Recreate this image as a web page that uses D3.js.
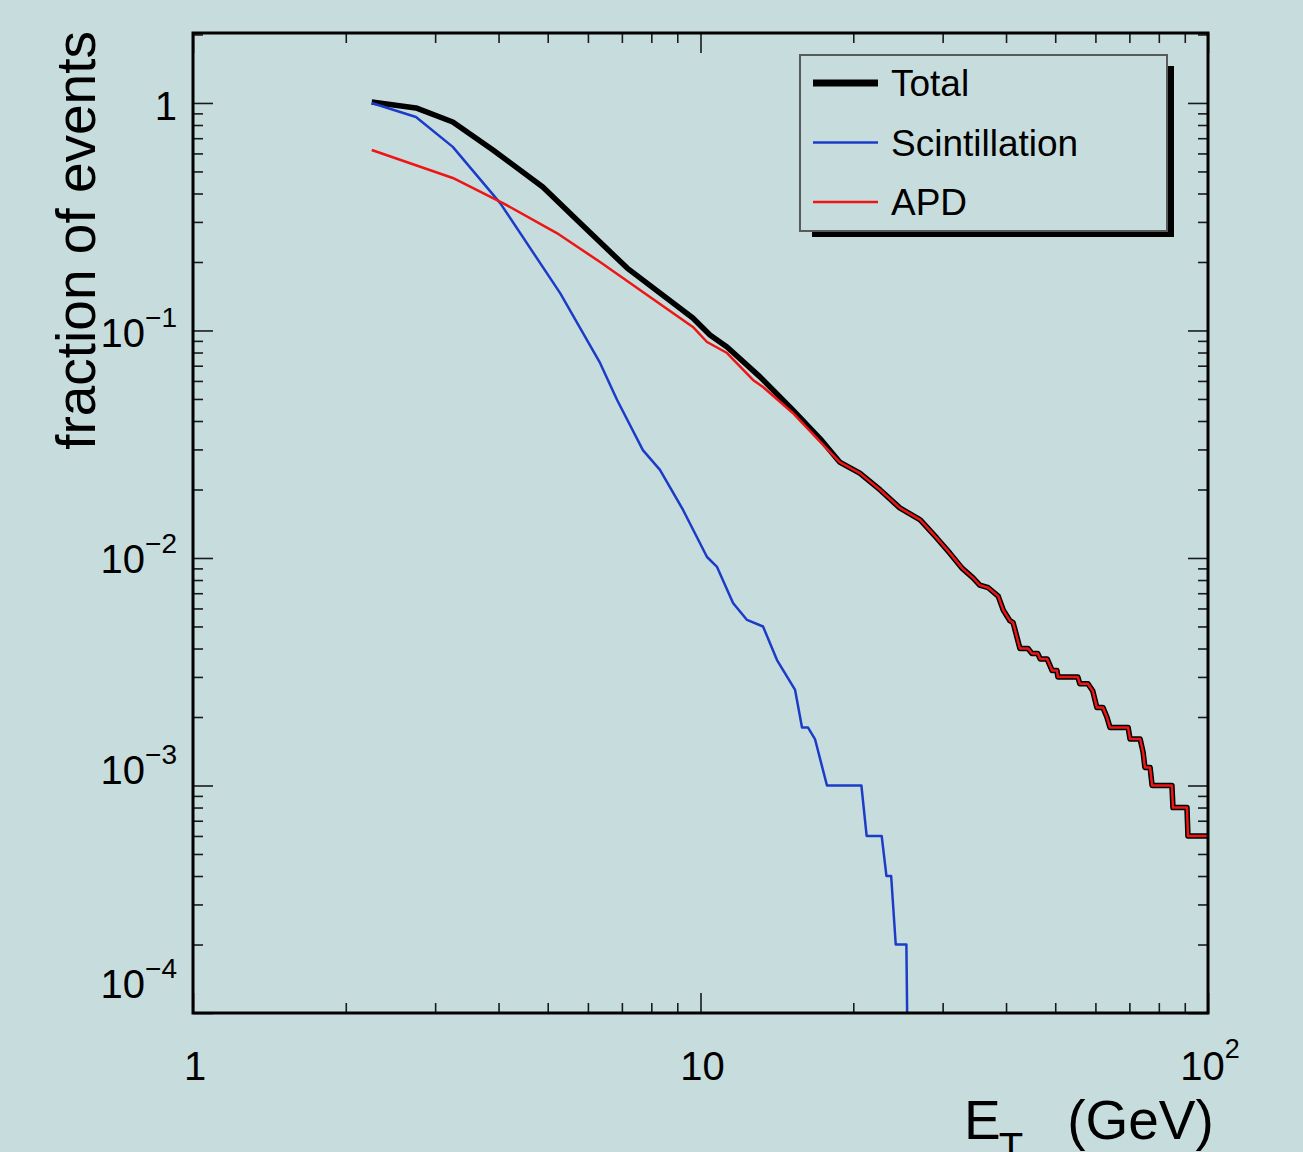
<!DOCTYPE html>
<html>
<head>
<meta charset="utf-8">
<script src="https://cdn.jsdelivr.net/npm/d3@7"></script>
<style>
  html, body { margin: 0; padding: 0; background: #c7dddd; }
  svg { display: block; font-family: "Liberation Sans", Arial, Helvetica, sans-serif; }
  .tick line { stroke: #1a1a1a; stroke-width: 1.6; }
</style>
</head>
<body>
<div id="chart"></div>
<script>
// energies (GeV, bin centres) and cumulative fractions
const totalE = [2.25, 2.75, 3.25, 3.9, 4.89, 5.71, 7.17, 9.66, 10.44, 11.28, 13.1, 15.2, 17.2]
const totalF = [1.01, 0.951, 0.825, 0.621, 0.427, 0.306, 0.188, 0.1135, 0.0955, 0.0846, 0.0625, 0.0447, 0.0335]

const apdE = [2.25, 3.25, 4.08, 5.21, 6.34, 7.6, 9.66, 10.3, 11.28, 12.69, 13.28, 15.2, 17.2]
const apdF = [0.621, 0.468, 0.363, 0.268, 0.2, 0.1507, 0.1036, 0.089, 0.0796, 0.0606, 0.0564, 0.0434, 0.0325]

// above ~18 GeV Total and APD are the same curve
const tailE = [18.8, 20.6, 22.6, 24.7, 27.1, 29.2, 31.0, 32.8, 34.4, 35.5, 36.9, 38.6, 39.5, 40.7, 41.3,
    42.6, 44.2, 45.0, 46.2, 46.7, 48.2, 49.3, 50.4, 50.6, 55.4, 55.9, 58.0, 59.3, 60.4, 62.1, 63.2,
    64.1, 69.6, 70.2, 73.5, 74.5, 75.1, 76.9, 77.6, 84.9, 85.3, 90.9, 91.3, 100]
const tailF = [0.0264, 0.0236, 0.0199, 0.0166, 0.0147, 0.01225, 0.0105, 0.009, 0.0082, 0.0076, 0.0074, 0.0068, 0.0059, 0.0053, 0.0052,
    0.004, 0.004, 0.0038, 0.0038, 0.0036, 0.0036, 0.0032, 0.0032, 0.003, 0.003, 0.0028, 0.0028, 0.0026, 0.0022, 0.0022, 0.002,
    0.0018, 0.0018, 0.0016, 0.0016, 0.0014, 0.0012, 0.0012, 0.001, 0.001, 0.0008, 0.0008, 0.0006, 0.0006]

const scintE = [2.25, 2.75, 3.25, 4.03, 5.29, 6.34, 6.85, 7.7, 8.32, 9.24, 10.3, 10.78, 11.59, 12.35, 13.28,
    14.15, 15.36, 15.85, 16.28, 16.81, 17.75, 20.75, 21.25, 22.75, 23.25, 23.75, 24.25, 25.45, 25.55]
const scintF = [1.0, 0.868, 0.641, 0.363, 0.146, 0.072, 0.0495, 0.0298, 0.0244, 0.01626, 0.0101, 0.00913, 0.00634, 0.00534, 0.005,
    0.00356, 0.00263, 0.0018, 0.0018, 0.0016, 0.001, 0.001, 0.0006, 0.0006, 0.0004, 0.0004, 0.0002, 0.0002, 0]

const xTickVals = [1, 10, 100]
const xTickBase = ['1', '10', '10']
const xTickSup = ['', '', '2']
const yTickVals = [1, 0.1, 0.01, 0.001, 0.0001]
const yTickBase = ['1', '10', '10', '10', '10']
const yTickSup = ['', '\u22121', '\u22122', '\u22123', '\u22124']

const legendNames = ['Total', 'Scintillation', 'APD']
const seriesColors = ['#000000', '#1c3cc8', '#ee1515']
const seriesWidths = [5.5, 2.5, 2.5]

const layout = { left: 193, top: 33, width: 1015, height: 980 }
const yLabelDy = [17, 17, 15, -1, -15]   // label nudges as printed

const toPoints = (es, fs) => es.map((e, i) => ({ e: e, f: fs[i] }))
const series = [
    toPoints(totalE.concat(tailE), totalF.concat(tailF)),
    toPoints(scintE, scintF),
    toPoints(apdE.concat(tailE), apdF.concat(tailF))
]

const svg = d3.select('#chart').append('svg')
    .attr('width', 1303)
    .attr('height', 1152)

svg.append('rect').attr('width', 1303).attr('height', 1152).attr('fill', '#c7dddd')

const g = svg.append('g')
    .attr('transform', 'translate(' + layout.left + ',' + layout.top + ')')

const xScale = d3.scaleLog().domain([1, 100]).range([0, layout.width])
const yScale = d3.scaleLog().domain([1e-4, 2.03]).range([layout.height, 0])

const xMinor = [1, 10].flatMap(d => d3.range(2, 10).map(k => k * d))
const yMinor = [1e-4, 1e-3, 1e-2, 1e-1, 1].flatMap(d => d3.range(2, 10).map(k => k * d)).filter(v => v < 2.03)

// ROOT style: ticks inside the frame on all four sides
function addAxis(axisFn, scale, vals, size, transform) {
    const el = g.append('g')
        .attr('transform', transform)
        .call(axisFn(scale).tickValues(vals).tickSize(size).tickFormat(''))
    el.select('.domain').remove()
}
addAxis(d3.axisBottom, xScale, xTickVals, -20, 'translate(0,' + layout.height + ')')
addAxis(d3.axisBottom, xScale, xMinor, -10, 'translate(0,' + layout.height + ')')
addAxis(d3.axisTop, xScale, xTickVals, -20, 'translate(0,0)')
addAxis(d3.axisTop, xScale, xMinor, -10, 'translate(0,0)')
addAxis(d3.axisLeft, yScale, yTickVals, -20, 'translate(0,0)')
addAxis(d3.axisLeft, yScale, yMinor, -10, 'translate(0,0)')
addAxis(d3.axisRight, yScale, yTickVals, -20, 'translate(' + layout.width + ',0)')
addAxis(d3.axisRight, yScale, yMinor, -10, 'translate(' + layout.width + ',0)')

// curves
g.append('defs').append('clipPath').attr('id', 'clip-plot')
    .append('rect').attr('width', layout.width).attr('height', layout.height)

const line = d3.line()
    .x(d => xScale(d.e))
    .y(d => d.f > 0 ? yScale(d.f) : layout.height + 10)

const curvesG = g.append('g').attr('clip-path', 'url(#clip-plot)')
series.forEach((s, i) => {
    curvesG.append('path')
        .datum(s)
        .attr('fill', 'none')
        .attr('stroke', seriesColors[i])
        .attr('stroke-width', seriesWidths[i])
        .attr('stroke-linejoin', 'round')
        .attr('d', line)
})

// frame
g.append('rect')
    .attr('width', layout.width)
    .attr('height', layout.height)
    .attr('fill', 'none')
    .attr('stroke', '#000')
    .attr('stroke-width', 3)

// tick labels
xTickVals.forEach((v, i) => {
    const t = g.append('text')
        .attr('x', xScale(v) + 2)
        .attr('y', layout.height + 67)
        .attr('text-anchor', 'middle')
        .attr('font-size', 40)
        .text(xTickBase[i])
    if (xTickSup[i]) {
        t.append('tspan').attr('dy', -22).attr('font-size', 27).text(xTickSup[i])
    }
})

yTickVals.forEach((v, i) => {
    const t = g.append('text')
        .attr('x', -16)
        .attr('y', yScale(v) + yLabelDy[i])
        .attr('text-anchor', 'end')
        .attr('font-size', 40)
        .text(yTickBase[i])
    if (yTickSup[i]) {
        t.append('tspan').attr('dy', -20).attr('font-size', 28).text(yTickSup[i])
    }
})

// axis titles
svg.append('text')
    .attr('transform', 'translate(95,31) rotate(-90)')
    .attr('text-anchor', 'end')
    .attr('font-size', 55)
    .text('fraction of events')

const xt = svg.append('text')
    .attr('x', 964)
    .attr('y', 1139)
    .attr('font-size', 55)
    .text('E')
xt.append('tspan').attr('dx', -2).attr('dy', 22).attr('font-size', 40).text('T')
xt.append('tspan').attr('dx', 44).attr('dy', -22).text('(GeV)')

// legend
const lg = svg.append('g')
lg.append('rect').attr('x', 1167).attr('y', 66).attr('width', 7).attr('height', 171).attr('fill', '#000')
lg.append('rect').attr('x', 812).attr('y', 231).attr('width', 362).attr('height', 6).attr('fill', '#000')
lg.append('rect')
    .attr('x', 800).attr('y', 55)
    .attr('width', 367).attr('height', 176)
    .attr('fill', '#c7dddd')
    .attr('stroke', '#5a5a5a')
    .attr('stroke-width', 2)

legendNames.forEach((name, i) => {
    const cy = 83 + i * 59.5
    lg.append('line')
        .attr('x1', 813).attr('x2', 878)
        .attr('y1', cy).attr('y2', cy)
        .attr('stroke', seriesColors[i])
        .attr('stroke-width', i === 0 ? 7 : seriesWidths[i])
    lg.append('text')
        .attr('x', 891)
        .attr('y', cy + 13)
        .attr('font-size', 37)
        .text(name)
})
</script>
</body>
</html>
